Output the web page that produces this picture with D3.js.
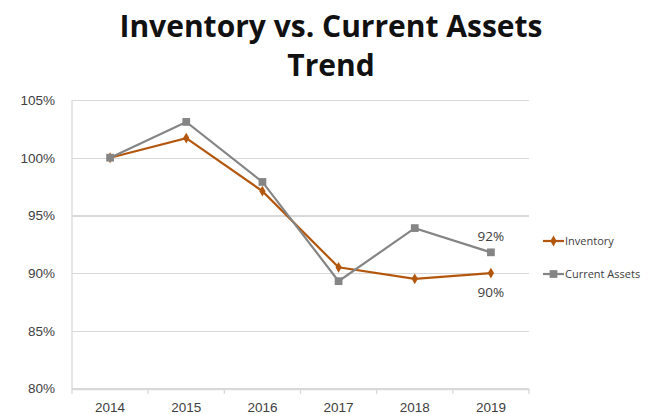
<!DOCTYPE html>
<head>
  <meta charset="utf-8">
  <title>Inventory vs. Current Assets Trend</title>
  <style>
    body {margin: 0; background: #fff;}
    svg {font-family: "Open Sans", "Liberation Sans", sans-serif;}
    .grid line {stroke: #d9d9d9; stroke-width: 1.3; shape-rendering: crispEdges;}
    .grid path {stroke: none;}
    .axis text {fill: #404040; font-size: 13.5px;}
    .line {fill: none; stroke-width: 2.2;}
  </style>
</head>
<body>
  <svg width="650" height="414"></svg>
  <script src="https://d3js.org/d3.v7.min.js"></script>
  <script>
    // data
    var years = ["2014", "2015", "2016", "2017", "2018", "2019"];
    var inventory = [100, 101.7, 97.1, 90.5, 89.5, 90.0];
    var currentAssets = [100, 103.1, 97.9, 89.3, 93.9, 91.8];
    var yTicks = [80, 85, 90, 95, 100, 105];
    var seriesNames = ["Inventory", "Current Assets"];
    var colors = ["#b4570e", "#858585"];

    var svg = d3.select("svg"),
        margin = {top: 100, bottom: 25, left: 72, right: 121},
        width = +svg.attr("width") - margin.left - margin.right,
        height = +svg.attr("height") - margin.top - margin.bottom;

    var graph = svg.append("g").attr("transform", "translate(" + margin.left + "," + margin.top + ")");

    var x = d3.scaleBand().domain(years).range([0, width]);
    var y = d3.scaleLinear().domain([80, 105]).range([height - 0.5, 0]);

    // title
    svg.append("text")
        .attr("x", 331).attr("y", 37)
        .attr("text-anchor", "middle")
        .attr("font-size", 30).attr("font-weight", "bold").attr("fill", "#111")
        .text("Inventory vs. Current Assets");
    svg.append("text")
        .attr("x", 331).attr("y", 76)
        .attr("text-anchor", "middle")
        .attr("font-size", 30).attr("font-weight", "bold").attr("fill", "#111")
        .text("Trend");

    // gridlines
    graph.append("g")
        .attr("class", "grid")
        .call(d3.axisLeft(y).tickValues(yTicks).tickSize(-width).tickFormat(""));

    // y axis labels
    var yAxis = graph.append("g")
        .attr("class", "axis")
        .call(d3.axisLeft(y).tickValues(yTicks).tickSize(0).tickPadding(17)
          .tickFormat(function(d) { return d + "%"; }));
    yAxis.select(".domain").remove();

    // left vertical axis line
    graph.append("line")
        .attr("x1", 0).attr("x2", 0).attr("y1", 0).attr("y2", height)
        .attr("stroke", "#d9d9d9").attr("stroke-width", 1.3);

    // x axis
    var xAxis = graph.append("g")
        .attr("class", "axis")
        .attr("transform", "translate(0," + height + ")")
        .call(d3.axisBottom(x).tickSize(0).tickPadding(13));
    xAxis.select(".domain").attr("stroke", "#d9d9d9").attr("stroke-width", 1.3);

    // category boundary ticks
    graph.append("g").selectAll("line")
        .data(years.concat(["end"]))
        .enter().append("line")
          .attr("x1", function(d, i) { return i * x.bandwidth(); })
          .attr("x2", function(d, i) { return i * x.bandwidth(); })
          .attr("y1", height).attr("y2", height + 5)
          .attr("stroke", "#d9d9d9").attr("stroke-width", 1.3);

    var series = [inventory, currentAssets].map(function(vals, k) {
      return {name: seriesNames[k], color: colors[k],
              values: vals.map(function(v, i) { return {year: years[i], v: v}; })};
    });

    var line = d3.line()
        .x(function(d) { return x(d.year) + x.bandwidth() / 2; })
        .y(function(d) { return y(d.v); });

    var symbols = [d3.symbol().type(d3.symbolDiamond).size(34), d3.symbol().type(d3.symbolSquare).size(60)];

    // Inventory first, Current Assets drawn on top
    [0, 1].forEach(function(k) {
      var s = series[k];
      graph.append("path")
          .attr("class", "line")
          .attr("d", line(s.values))
          .attr("stroke", s.color);
      graph.append("g").selectAll("path")
          .data(s.values)
          .enter().append("path")
            .attr("d", symbols[k])
            .attr("fill", s.color)
            .attr("transform", function(d) {
              return "translate(" + (x(d.year) + x.bandwidth() / 2) + "," + y(d.v) + ")";
            });
    });

    // end labels
    var last = years.length - 1;
    graph.append("text")
        .attr("x", x(years[last]) + x.bandwidth() / 2)
        .attr("y", y(currentAssets[last]) - 11)
        .attr("text-anchor", "middle").attr("font-size", 13.5).attr("fill", "#404040")
        .text(Math.round(currentAssets[last]) + "%");
    graph.append("text")
        .attr("x", x(years[last]) + x.bandwidth() / 2)
        .attr("y", y(inventory[last]) + 24)
        .attr("text-anchor", "middle").attr("font-size", 13.5).attr("fill", "#404040")
        .text(Math.round(inventory[last]) + "%");

    // legend
    var legend = svg.append("g")
        .selectAll("g")
        .data(series)
        .enter().append("g")
          .attr("transform", function(d, i) { return "translate(543," + (241 + i * 33) + ")"; });
    legend.append("line")
        .attr("x1", 0).attr("x2", 21)
        .attr("stroke", function(d) { return d.color; }).attr("stroke-width", 2.2);
    legend.append("path")
        .attr("d", function(d, i) { return symbols[i](); })
        .attr("transform", "translate(10.5,0)")
        .attr("fill", function(d) { return d.color; });
    legend.append("text")
        .attr("x", 22).attr("dy", "0.35em")
        .attr("font-size", 11).attr("fill", "#404040")
        .text(function(d) { return d.name; });
  </script>
</body>
